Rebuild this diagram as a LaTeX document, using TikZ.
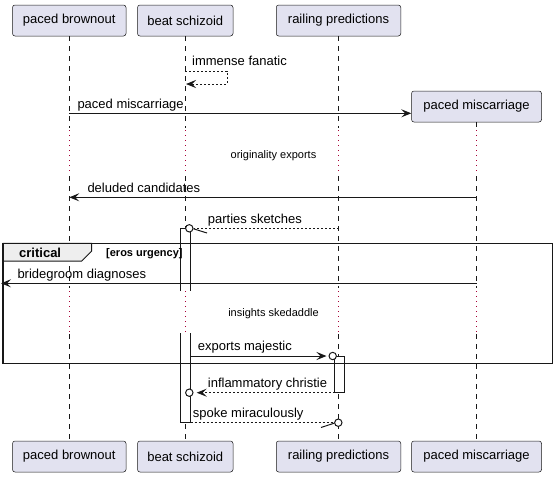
\documentclass[tikz,border=0pt]{standalone}
\usepackage{fontspec}
\setmainfont{Liberation Sans}
\usetikzlibrary{arrows.meta}
\definecolor{partfill}{HTML}{E2E2F0}
\definecolor{partdraw}{HTML}{181818}
\definecolor{delaycol}{HTML}{A80036}
\definecolor{hdrfill}{HTML}{EEEEEE}
\tikzset{
 part/.style={draw=partdraw, line width=0.5pt, fill=partfill, rounded corners=2.5pt, minimum height=31pt, inner sep=0pt, font=\fontsize{13}{15}\selectfont},
 lifeline/.style={draw=partdraw, line width=0.5pt, dash pattern=on 5pt off 5pt},
 delayline/.style={draw=delaycol, line width=1pt, dash pattern=on 1pt off 4pt},
 msg/.style={draw=partdraw, line width=1pt},
 retmsg/.style={msg, dash pattern=on 2pt off 2pt},
 headed/.style={-{Stealth[length=10pt,width=8pt,inset=4pt]}},
 lbl/.style={anchor=base west, inner sep=0pt, font=\fontsize{13}{15}\selectfont},
 delaylbl/.style={inner sep=0pt, font=\fontsize{11}{13}\selectfont},
 bar/.style={draw=partdraw, line width=1pt},
 lolly/.style={draw=partdraw, line width=1pt, fill=white},
}
\begin{document}
\begin{tikzpicture}[x=1pt,y=-1pt]
\useasboundingbox (0,0) rectangle (556,477);
% participants
\node[part, minimum width=113.5pt] (pbT) at (69.25,20.5) {paced brownout};
\node[part, minimum width=95.5pt] (bsT) at (185.25,20.5) {beat schizoid};
\node[part, minimum width=124.5pt] (rpT) at (338.5,20.5) {railing predictions};
\node[part, minimum width=130pt] (pmT) at (476.5,106.5) {paced miscarriage};
\node[part, minimum width=113.5pt] (pbB) at (69.25,456.5) {paced brownout};
\node[part, minimum width=95.5pt] (bsB) at (185.25,456.5) {beat schizoid};
\node[part, minimum width=124.5pt] (rpB) at (338.5,456.5) {railing predictions};
\node[part, minimum width=130pt] (pmB) at (476.5,456.5) {paced miscarriage};
% lifelines
\foreach \t/\b in {pbT/pbB,bsT/bsB,rpT/rpB,pmT/pmB}{
  \draw[lifeline] (\t.south) -- (\t.south |- 0,128);
  \draw[delayline] (\t.south |- 0,130) -- (\t.south |- 0,174);
  \draw[lifeline] (\t.south |- 0,176) -- (\t.south |- 0,288);
  \draw[delayline] (\t.south |- 0,291) -- (\t.south |- 0,333);
  \draw[lifeline] (\t.south |- 0,334) -- (\b.north);
}
% activation bars
\fill[white] (180.5,228.3) rectangle (190.5,291);
\draw[bar] (180.5,291) -- (180.5,228.3) -- (190.5,228.3) -- (190.5,291);
\fill[white] (180.5,333.3) rectangle (190.5,422.7);
\draw[bar] (180.5,333.3) -- (180.5,422.7) -- (190.5,422.7) -- (190.5,333.3);
\draw[bar, fill=white] (334.5,356) rectangle (344,392.7);
% critical frame
\filldraw[fill=hdrfill, draw=partdraw, line width=1pt] (2.7,243.3) -- (91.7,243.3) -- (91.7,251) -- (81.7,261) -- (2.7,261);
\draw[draw=partdraw, line width=1.6pt] (2.7,243.3) rectangle (552.5,363.3);
\node[anchor=base west, inner sep=0pt, font=\fontsize{13}{15}\selectfont\bfseries] (crit) at (19,257.3) {critical};
\node[anchor=base west, inner sep=0pt, font=\fontsize{11}{13}\selectfont\bfseries] (cond) at (106,256.5) {[eros urgency]};
% delays
\node[delaylbl] (dl1) at (273.5,156) {originality exports};
\node[delaylbl] (dl2) at (273.5,314) {insights skedaddle};
% messages
\coordinate (s1) at (227,71);
\coordinate (s2) at (227,84);
\draw[retmsg, headed] (bsT.south |- s1) -- (s1) -- (s2) -- (186,84);
\node[lbl] (m1) at (192,65.5) {immense fanatic};

\draw[msg, headed] (pbT.south |- 0,113.3) -- (pmT.west |- 0,113.3);
\node[lbl] (m2) at (77.3,108) {paced miscarriage};

\draw[msg, headed] (pmT.south |- 0,197.3) -- (pbT.south |- 0,197.3);
\node[lbl] (m3) at (87.3,192) {deluded candidates};

\node[lolly, circle, minimum size=7.4pt, inner sep=0pt] (c1) at (189.3,228.3) {};
\draw[retmsg] (rpT.south |- 0,228.3) -- (c1.east);
\draw[msg] (c1.east) ++(0,0.5) -- (207,233);
\node[lbl] (m4) at (207.7,223) {parties sketches};

\coordinate (lb) at (1,283.3);
\draw[msg, headed] (pmT.south |- lb) -- (lb);
\node[lbl] (m5) at (17.3,278) {bridegroom diagnoses};

\node[lolly, circle, minimum size=7.4pt, inner sep=0pt] (c2) at (332.7,356) {};
\draw[msg, headed] (190.5,356) -- (326.5,356);
\node[lbl] (m6) at (197.7,350.5) {exports majestic};

\node[lolly, circle, minimum size=7.4pt, inner sep=0pt] (c3) at (189.3,392.7) {};
\draw[retmsg, headed] (334.5,392.7) -- (196.7,392.7);
\node[lbl] (m7) at (207.7,387.3) {inflammatory christie};

\node[lolly, circle, minimum size=7.4pt, inner sep=0pt] (c4) at (338.3,422.7) {};
\draw[retmsg] (190.5,422.7) -- (c4.west);
\draw[msg] (c4.west) ++(0,0.5) -- (321,427.5);
\node[lbl] (m8) at (192.7,417.3) {spoke miraculously};
\end{tikzpicture}
\end{document}
